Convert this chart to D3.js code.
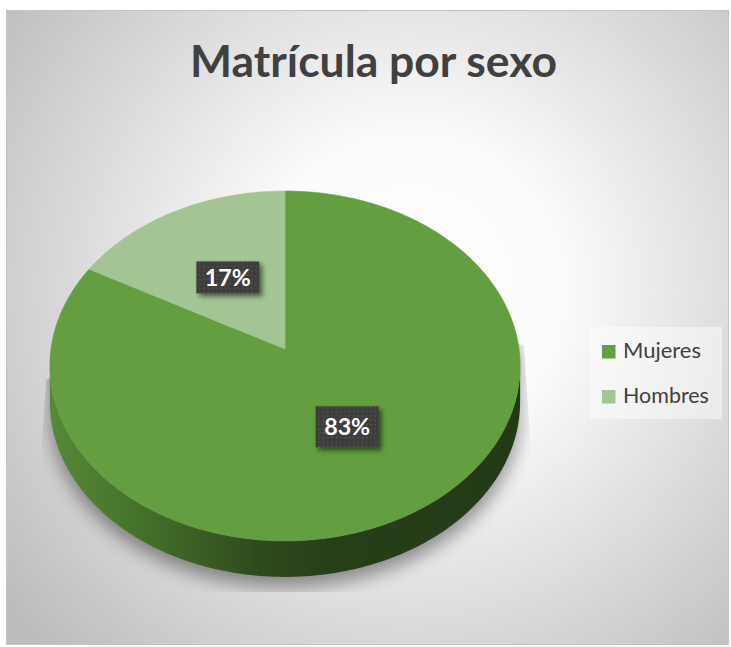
<!DOCTYPE html>
<html>
<head>
<meta charset="utf-8">
<script src="https://cdn.jsdelivr.net/npm/d3@7"></script>
<style>
html,body{margin:0;padding:0;background:#fff;}
svg{display:block;}
</style>
</head>
<body>
<svg id="chart" width="731" height="647"></svg>
<script>
// ---- data ----
const categories = ["Mujeres", "Hombres"];
const values = [83, 17];
const labelTexts = ["83%", "17%"];
const titleText = "Matrícula por sexo";

// ---- styles ----
const topColors = ["#639e40", "#a3c593"];
const font = "Lato, 'Open Sans', sans-serif";

const svg = d3.select("#chart");
const defs = svg.append("defs");

// background radial gradient
const rg = defs.append("radialGradient").attr("id", "bg")
  .attr("gradientUnits", "userSpaceOnUse")
  .attr("cx", 410).attr("cy", 290).attr("r", 510);
rg.append("stop").attr("offset", "0").attr("stop-color", "#ffffff");
rg.append("stop").attr("offset", "0.3").attr("stop-color", "#fbfbfb");
rg.append("stop").attr("offset", "1").attr("stop-color", "#bcbcbc");

svg.append("rect").attr("x", 6.5).attr("y", 10.5).attr("width", 722).attr("height", 634)
  .attr("fill", "url(#bg)").attr("stroke", "#c4c4c4").attr("stroke-width", 1);

// ---- pie geometry (perspective projection of a disk) ----
const cx = 285, cy = 349, A = 234, B = 173.3, k = 0.097, depth = 36;
function P(phi, r, dy) {
  const s = 1 + k * r * Math.cos(phi);
  return [cx + A * r * Math.sin(phi) / s, cy - B * r * Math.cos(phi) / s + (dy || 0)];
}
function arcPts(a0, a1, r, dy) {
  const n = Math.max(8, Math.ceil(Math.abs(a1 - a0) / 0.01));
  return d3.range(n + 1).map(i => P(a0 + (a1 - a0) * i / n, r, dy));
}
const line = d3.line();

const pie = d3.pie().sort(null).value(d => d)(values);
const color = d3.scaleOrdinal().domain(categories).range(topColors);

// side gradient
const sg = defs.append("linearGradient").attr("id", "side")
  .attr("gradientUnits", "userSpaceOnUse")
  .attr("x1", cx - A).attr("x2", cx + A).attr("y1", 0).attr("y2", 0);
[["0", "#558a37"], ["0.2", "#437029"], ["0.45", "#2e4a1d"], ["0.6", "#273f19"], ["1", "#233a16"]]
  .forEach(([o, c]) => sg.append("stop").attr("offset", o).attr("stop-color", c));

// shadow filter
const f = defs.append("filter").attr("id", "blur").attr("x", "-20%").attr("y", "-20%").attr("width", "140%").attr("height", "140%");
f.append("feGaussianBlur").attr("stdDeviation", 9);
defs.append("clipPath").attr("id", "shclip").append("polygon")
  .attr("points", "46,380 120,330 450,330 524,345 540,592 32,592");

// label shadow
const lf = defs.append("filter").attr("id", "lshadow").attr("x", "-30%").attr("y", "-30%").attr("width", "160%").attr("height", "160%");
lf.append("feDropShadow").attr("dx", 3).attr("dy", 3).attr("stdDeviation", 2.5)
  .attr("flood-color", "#000").attr("flood-opacity", 0.55);

// label pattern
const pat = defs.append("pattern").attr("id", "dots").attr("patternUnits", "userSpaceOnUse")
  .attr("width", 4.33).attr("height", 4.33);
pat.append("rect").attr("width", 4.33).attr("height", 4.33).attr("fill", "#3d3d3d");
pat.append("rect").attr("x", 1.5).attr("y", 1.5).attr("width", 1.4).attr("height", 1.4).attr("fill", "#575757");

const phiR = Math.acos(-k), phiL = 2 * Math.PI - phiR;
const topEllipse = arcPts(0, 2 * Math.PI, 1, 0);
const sidePts = arcPts(phiR, phiL, 1, 0).concat(arcPts(phiL, phiR, 1, depth));

// shadow
const sh = svg.append("g").attr("clip-path", "url(#shclip)")
  .append("g").attr("filter", "url(#blur)").attr("opacity", 0.4);
sh.append("path").attr("d", line(topEllipse) + "Z").attr("transform", "translate(0,10)").attr("fill", "#000");
sh.append("path").attr("d", line(sidePts) + "Z").attr("transform", "translate(0,10)").attr("fill", "#000");

// side
svg.append("path").attr("d", line(sidePts) + "Z").attr("fill", "url(#side)");

// top slices
svg.selectAll("path.slice").data(pie).join("path").attr("class", "slice")
  .attr("d", d => line([[cx, cy]].concat(arcPts(d.startAngle, d.endAngle, 1, 0))) + "Z")
  .attr("fill", (d, i) => color(categories[i]))
  .attr("stroke", (d, i) => color(categories[i])).attr("stroke-width", 0.6);

// fit text helper
function fit(sel, w) {
  const len = sel.node().getComputedTextLength();
  const fs = parseFloat(sel.attr("font-size"));
  sel.attr("font-size", fs * w / len);
}

// data labels
const lab = svg.selectAll("g.lab").data(pie).join("g").attr("class", "lab")
  .attr("transform", d => {
    const m = (d.startAngle + d.endAngle) / 2;
    const p = P(m, 0.5, 0);
    return `translate(${p[0]},${p[1]})`;
  });
const boxH = [41, 32];
lab.append("rect").attr("x", -31.5).attr("y", (d, i) => -boxH[i] / 2)
  .attr("width", 63).attr("height", (d, i) => boxH[i])
  .attr("fill", "url(#dots)").attr("filter", "url(#lshadow)");
lab.append("text").text((d, i) => labelTexts[i])
  .attr("text-anchor", "middle").attr("dy", "0.36em")
  .attr("font-family", font).attr("font-weight", "bold").attr("font-size", 22)
  .attr("fill", "#ffffff")
  .each(function () { fit(d3.select(this), 46); });

// title
const t = svg.append("text").text(titleText)
  .attr("x", 373.5).attr("y", 77).attr("text-anchor", "middle")
  .attr("font-family", font).attr("font-weight", "bold").attr("font-size", 48)
  .attr("fill", "#404040");
fit(t, 367);

// legend
svg.append("rect").attr("x", 590).attr("y", 327).attr("width", 132).attr("height", 92)
  .attr("fill", "#ffffff").attr("opacity", 0.45);
const lg = svg.selectAll("g.leg").data(categories).join("g").attr("class", "leg")
  .attr("transform", (d, i) => `translate(602,${345 + i * 45})`);
lg.append("rect").attr("width", 13.5).attr("height", 13.5).attr("fill", d => color(d));
lg.append("text").text(d => d).attr("x", 21).attr("y", 13)
  .attr("font-family", font).attr("font-size", 20).attr("fill", "#404040")
  .each(function (d, i) { fit(d3.select(this), [78, 86][i]); });
</script>
</body>
</html>
